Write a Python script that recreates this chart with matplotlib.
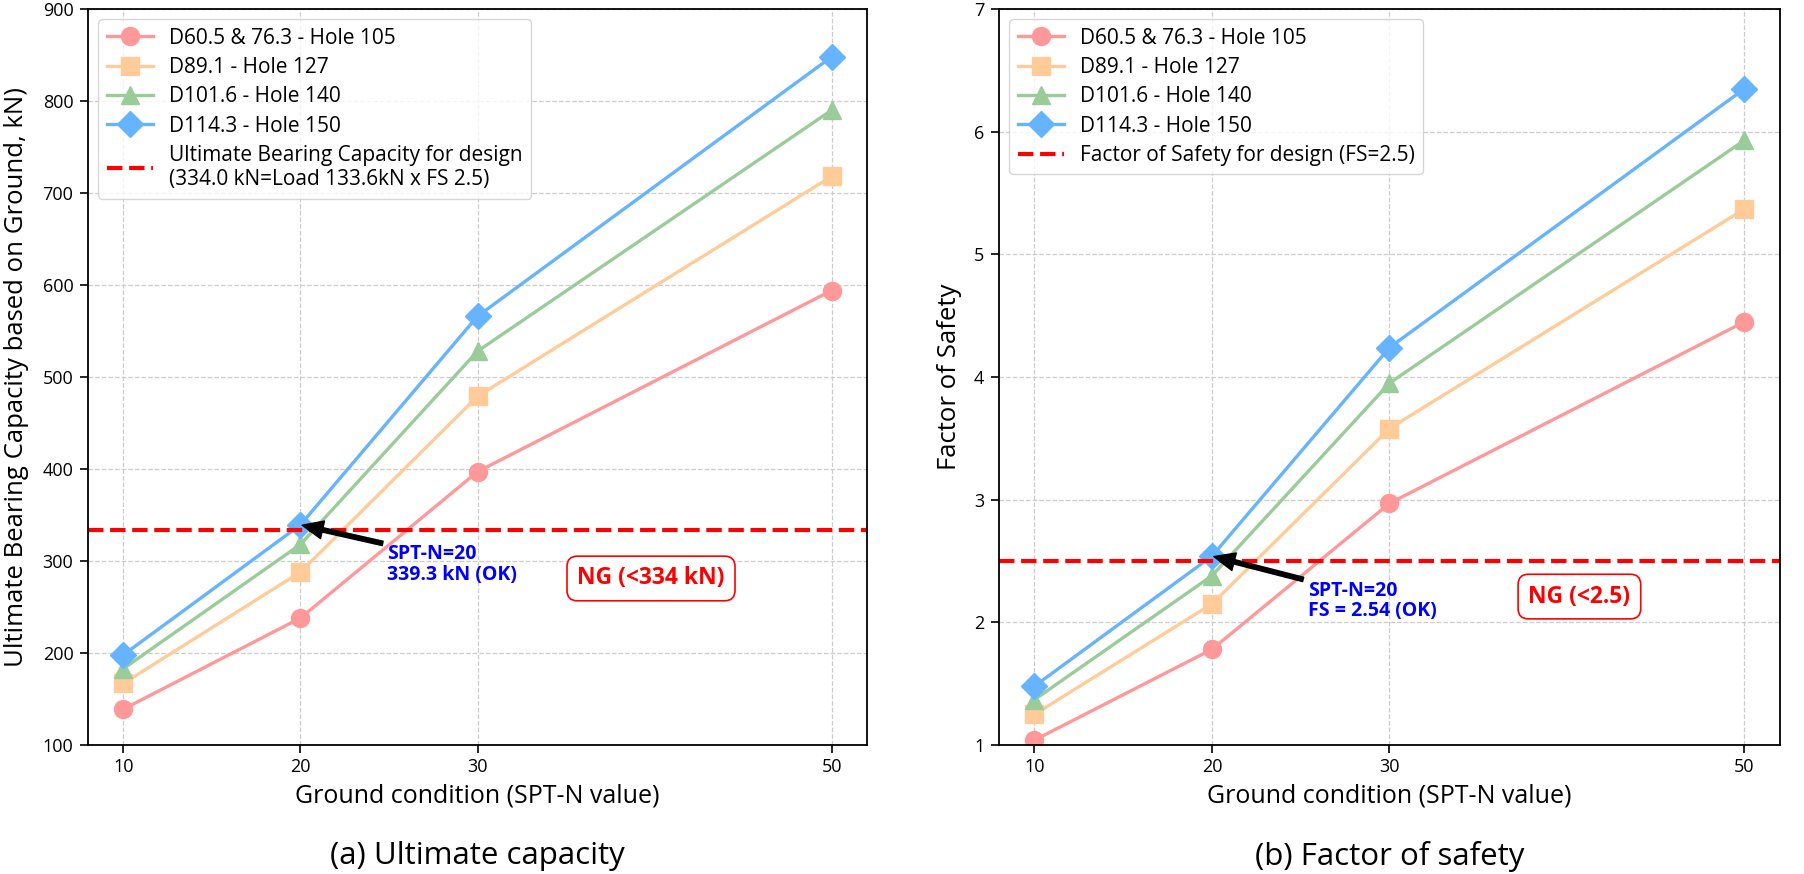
import numpy as np
import matplotlib
matplotlib.use('Agg')
import matplotlib.pyplot as plt

plt.rcParams['font.family'] = ['Open Sans', 'DejaVu Sans']

# data
spt_n = [10, 20, 30, 50]
labels = ['D60.5 & 76.3 - Hole 105', 'D89.1 - Hole 127', 'D101.6 - Hole 140', 'D114.3 - Hole 150']
colors = ['#ff9999', '#ffcc99', '#99cc99', '#66b3ff']
markers = ['o', 's', '^', 'D']

cap_105 = [139, 238, 397, 594]
cap_127 = [167, 288, 479, 718]
cap_140 = [183, 318, 528, 790]
cap_150 = [198, 339.3, 566, 848]

fs_105 = [1.04, 1.78, 2.97, 4.45]
fs_127 = [1.25, 2.15, 3.58, 5.37]
fs_140 = [1.37, 2.38, 3.95, 5.93]
fs_150 = [1.48, 2.54, 4.24, 6.35]

design_cap = 334.0
design_fs = 2.5

fig = plt.figure(figsize=(18.04, 8.74), dpi=100)
ax1 = fig.add_axes([88/1804, 129/874, 779/1804, 736/874])
ax2 = fig.add_axes([999/1804, 129/874, 781/1804, 736/874])

def draw(ax, series, hline, hlabel):
    for y, lab, c, m in zip(series, labels, colors, markers):
        ax.plot(spt_n, y, color=c, marker=m, markersize=13, linewidth=2.4, label=lab)
    ax.axhline(hline, color='red', linestyle='--', linewidth=3, label=hlabel)
    ax.set_xticks(spt_n)
    ax.set_xlim(8, 52)
    ax.grid(True, linestyle='--', color='#cccccc', linewidth=0.9)
    ax.tick_params(labelsize=13, width=1.2, length=5.5)
    ax.tick_params(axis='x', pad=4)
    ax.tick_params(axis='y', pad=5)
    for s in ax.spines.values():
        s.set_linewidth(1.3)
    ax.set_xlabel('Ground condition (SPT-N value)', fontsize=18)
    ax.xaxis.set_label_coords(0.5, -0.052)
    ax.legend(loc='upper left', fontsize=15, borderpad=0.4, labelspacing=0.4, handlelength=2.2)

draw(ax1, [cap_105, cap_127, cap_140, cap_150], design_cap,
     'Ultimate Bearing Capacity for design\n(334.0 kN=Load 133.6kN x FS 2.5)')
ax1.set_ylim(100, 900)
ax1.set_ylabel('Ultimate Bearing Capacity based on Ground, kN)', fontsize=18.5)
ax1.yaxis.set_label_coords(-0.076, 0.5)
ax1.annotate('SPT-N=20\n339.3 kN (OK)', xy=(20, cap_150[1]), xytext=(24.9, 318),
             va='top', ha='left', color='blue', fontsize=14, fontweight='bold',
             linespacing=1.05,
             arrowprops=dict(facecolor='black', edgecolor='black', width=3.2, headwidth=13,
                             headlength=15, shrink=0.02))
ax1.text(39.8, 281, 'NG (<334 kN)', color='red', fontsize=16.5, fontweight='bold',
         ha='center', va='center',
         bbox=dict(boxstyle='round,pad=0.45', facecolor='white', edgecolor='red', linewidth=1.2))

draw(ax2, [fs_105, fs_127, fs_140, fs_150], design_fs, 'Factor of Safety for design (FS=2.5)')
ax2.set_ylim(1, 7)
ax2.set_ylabel('Factor of Safety', fontsize=18.5)
ax2.yaxis.set_label_coords(-0.047, 0.5)
ax2.annotate('SPT-N=20\nFS = 2.54 (OK)', xy=(20, fs_150[1]), xytext=(25.4, 2.34),
             va='top', ha='left', color='blue', fontsize=14, fontweight='bold',
             linespacing=1.05,
             arrowprops=dict(facecolor='black', edgecolor='black', width=3.2, headwidth=13,
                             headlength=15, shrink=0.02))
ax2.text(40.7, 2.21, 'NG (<2.5)', color='red', fontsize=16.5, fontweight='bold',
         ha='center', va='center',
         bbox=dict(boxstyle='round,pad=0.45', facecolor='white', edgecolor='red', linewidth=1.2))

fig.text(477/1804, 1 - 856/874, '(a) Ultimate capacity', fontsize=22.5, ha='center', va='center')
fig.text(1390/1804, 1 - 856/874, '(b) Factor of safety', fontsize=22.5, ha='center', va='center')

fig.savefig('out.png', dpi=100)
